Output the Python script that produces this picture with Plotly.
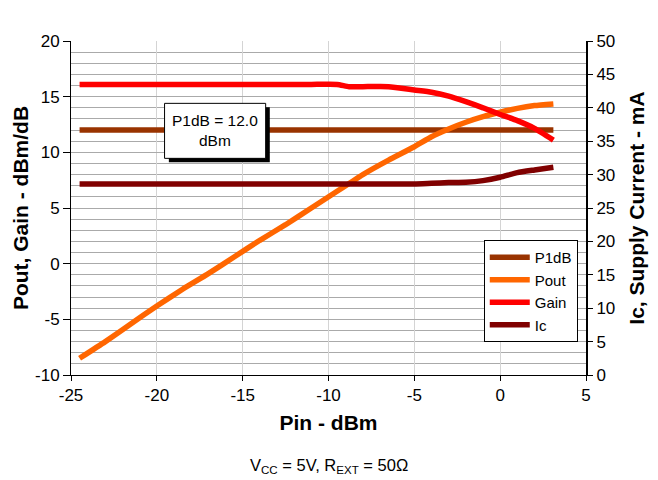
import plotly.graph_objects as go

pin = [-24.5, -23, -21.5, -20, -18.5, -17, -15.5, -14, -12.5, -11, -9.5, -8.8, -8,
       -6.5, -5, -4, -3, -2, -1, 0, 1, 2, 3.1]
p1db = [12.0] * len(pin)
pout = [-8.5, -7.0, -5.4, -3.8, -2.3, -0.9, 0.6, 2.1, 3.5, 5.0, 6.5, 7.2, 8.0,
        9.3, 10.5, 11.4, 12.1, 12.7, 13.2, 13.6, 13.95, 14.2, 14.35]
gain = [16.1, 16.1, 16.1, 16.1, 16.1, 16.1, 16.1, 16.1, 16.1, 16.1, 16.1, 15.9, 15.9,
        15.9, 15.6, 15.4, 15.05, 14.55, 14.0, 13.4, 12.85, 12.15, 11.1]
ic = [28.6, 28.6, 28.6, 28.6, 28.6, 28.6, 28.6, 28.6, 28.6, 28.6, 28.6, 28.6, 28.6,
      28.6, 28.6, 28.7, 28.8, 28.85, 29.1, 29.6, 30.3, 30.7, 31.1]

x_ticks = [-25, -20, -15, -10, -5, 0, 5]
x_ticklabels = ["-25", "-20", "-15", "-10", "-5", "0", "5"]
y_ticks = [-10, -5, 0, 5, 10, 15, 20]
y_ticklabels = ["-10", "-5", "0", "5", "10", "15", "20"]
y2_ticks = [0, 5, 10, 15, 20, 25, 30, 35, 40, 45, 50]
y2_ticklabels = [str(v) for v in y2_ticks]

FONT = "Arial, Liberation Sans, sans-serif"
TICK = 17
TITLE = 21

fig = go.Figure()
line_kw = dict(width=5.5, shape="spline", smoothing=0.5)
fig.add_trace(go.Scatter(x=pin, y=p1db, name="P1dB", mode="lines",
                         line=dict(color="#993300", **line_kw)))
fig.add_trace(go.Scatter(x=pin, y=pout, name="Pout", mode="lines",
                         line=dict(color="#FF6600", **line_kw)))
fig.add_trace(go.Scatter(x=pin, y=gain, name="Gain", mode="lines",
                         line=dict(color="#FF0000", **line_kw)))
fig.add_trace(go.Scatter(x=pin, y=ic, name="Ic", mode="lines", yaxis="y2",
                         line=dict(color="#800000", **line_kw)))

# annotation box with shadow
fig.add_shape(type="rect", xref="x", yref="y", x0=-19.3, x1=-13.42, y0=9.1, y1=14.05,
              fillcolor="black", line=dict(width=0), layer="above")
fig.add_shape(type="rect", xref="x", yref="y", x0=-19.55, x1=-13.66, y0=9.46, y1=14.4,
              fillcolor="white", line=dict(color="black", width=1), layer="above")
fig.add_annotation(x=-16.6, y=11.93, xref="x", yref="y", text="P1dB = 12.0<br>dBm",
                   showarrow=False, font=dict(family=FONT, size=15.5, color="black"),
                   align="center")

fig.add_annotation(x=0.5, y=-0.272, xref="paper", yref="paper",
                   text="V<sub>CC</sub> = 5V, R<sub>EXT</sub> = 50Ω",
                   showarrow=False, font=dict(family=FONT, size=16.5, color="black"),
                   yanchor="middle")

fig.update_layout(
    width=658, height=480,
    margin=dict(l=71, r=72, t=41, b=105),
    paper_bgcolor="white", plot_bgcolor="white",
    font=dict(family=FONT, size=TICK, color="black"),
    showlegend=True,
    legend=dict(x=0.984, y=0.099, xanchor="right", yanchor="bottom",
                bgcolor="white", bordercolor="black", borderwidth=1,
                font=dict(family=FONT, size=15, color="black"),
                tracegroupgap=0, itemwidth=40),
    xaxis=dict(range=[-25, 5], tickmode="array", tickvals=x_ticks, ticktext=x_ticklabels,
               showgrid=True, gridcolor="#d4d4d4",
               gridwidth=1, zeroline=False, showline=True, linecolor="black",
               linewidth=1, ticks="outside", ticklen=5, tickcolor="black",
               title=dict(text="<b>Pin - dBm</b>", font=dict(size=TITLE), standoff=10),
               tickfont=dict(size=TICK)),
    yaxis=dict(range=[-10, 20], tickmode="array", tickvals=y_ticks, ticktext=y_ticklabels,
               showgrid=True, gridcolor="#aaaaaa",
               gridwidth=1, zeroline=False, showline=True, linecolor="black",
               linewidth=1, ticks="outside", ticklen=7, tickcolor="black",
               minor=dict(dtick=1, tick0=0, showgrid=True, gridcolor="#aaaaaa", gridwidth=1),
               title=dict(text="<b>Pout, Gain - dBm/dB</b>", font=dict(size=TITLE),
                          standoff=0),
               tickfont=dict(size=TICK)),
    yaxis2=dict(range=[0, 50], tickmode="array", tickvals=y2_ticks, ticktext=y2_ticklabels,
                overlaying="y", side="right",
                showgrid=False, zeroline=False, showline=True, linecolor="black",
                linewidth=2, ticks="outside", ticklen=5, tickcolor="black",
                title=dict(text="<b>Ic, Supply Current - mA</b>", font=dict(size=TITLE),
                           standoff=15),
                tickfont=dict(size=TICK)),
)

fig.write_html("out.html")
